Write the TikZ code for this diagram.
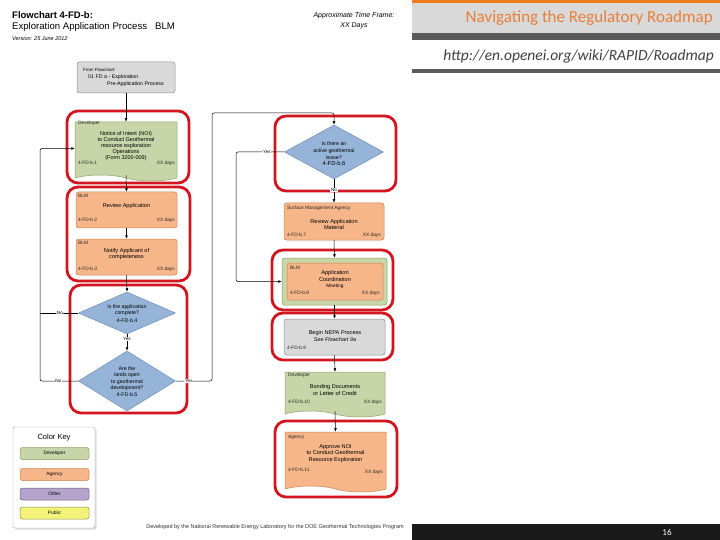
\documentclass[tikz,border=0pt]{standalone}
\usepackage{fontspec}
\setmainfont{Liberation Sans}
\newfontfamily\calibfont{Carlito}
\usetikzlibrary{shapes.geometric,shapes.symbols,arrows.meta}
\definecolor{devgreen}{HTML}{C8D5A8}
\definecolor{devline}{HTML}{8FA266}
\definecolor{agorange}{HTML}{F6B68A}
\definecolor{agline}{HTML}{C88552}
\definecolor{dblue}{HTML}{96B4D8}
\definecolor{dline}{HTML}{6C8DB6}
\definecolor{lgray}{HTML}{D9D9D9}
\definecolor{gline}{HTML}{8C8C8C}
\definecolor{framered}{HTML}{D2151E}
\definecolor{okey}{HTML}{B4A3CC}
\definecolor{ykey}{HTML}{F3F37C}
\definecolor{hdorange}{HTML}{F07E1E}
\definecolor{hdtext}{HTML}{E8803A}
\definecolor{hdgray}{HTML}{5A5A5A}
\definecolor{hdlight}{HTML}{D9D9D9}
\newcommand\fsz[2]{\fontsize{#1}{#2}\selectfont}
\tikzset{
  boxbase/.style={rectangle, rounded corners=2.5pt, line width=0.5pt, inner sep=0pt},
  devbox/.style={tape, tape bend top=none, tape bend bottom=out and in, tape bend height=6pt,
    fill=devgreen, draw=devline, line width=0.5pt, inner sep=0pt},
  agdoc/.style={tape, tape bend top=none, tape bend bottom=out and in, tape bend height=6pt,
    fill=agorange, draw=agline, line width=0.5pt, inner sep=0pt},
  agbox/.style={boxbase, fill=agorange, draw=agline},
  grbox/.style={boxbase, fill=devgreen, draw=devline},
  graybox/.style={boxbase, fill=lgray, draw=gline},
  decision/.style={diamond, fill=dblue, draw=dline, line width=0.5pt, inner sep=0pt},
  rframe/.style={draw=framered, line width=2.8pt, rounded corners=11pt},
  conn/.style={draw=black, line width=0.5pt, -{Latex[length=3.5pt,width=2.8pt]}},
  plainline/.style={draw=black, line width=0.5pt},
  corner/.style={font=\fsz{4.8}{5.5}, inner sep=0pt, text=black!85},
  maintxt/.style={font=\fsz{5.6}{6.2}, align=center, inner sep=0pt},
  dtxt/.style={font=\fsz{5.2}{6.6}, align=center, inner sep=0pt},
  ylab/.style={font=\fsz{4.6}{5}, fill=white, inner sep=0.6pt},
  keyentry/.style={boxbase, minimum width=69pt, minimum height=12pt, font=\fsz{4.8}{5.5}},
}
\begin{document}
\begin{tikzpicture}[x=1pt,y=-1pt]
\useasboundingbox (0,0) rectangle (720,540);
\fill[white] (0,0) rectangle (720,540);

% header
\fill[hdorange] (412,0) rectangle (720,3);
\fill[hdlight] (412,3) rectangle (720,33);
\fill[hdgray] (412,33) rectangle (720,40);
\fill[hdgray] (412,69) rectangle (720,73);
\node[anchor=east, inner sep=0pt, text=hdtext, font=\calibfont\fsz{17}{18}] (navt) at (713,18) {Navigating the Regulatory Roadmap};
\node[anchor=east, inner sep=0pt, text=black!75, font=\calibfont\itshape\fsz{15.5}{16}] (url) at (714,56) {http://en.openei.org/wiki/RAPID/Roadmap};

% title
\node[anchor=west, inner sep=0pt, font=\bfseries\fsz{9.5}{10}] (t1) at (12,15) {Flowchart 4-FD-b:};
\node[anchor=west, inner sep=0pt, font=\fsz{9.6}{10}] (t2) at (12,27) {Exploration Application Process \ \ BLM};
\node[anchor=west, inner sep=0pt, font=\itshape\fsz{5.5}{6}] (t3) at (12,38.5) {Version: 25 June 2012};
\node[inner sep=0pt, font=\itshape\fsz{7}{8}] (tf1) at (354,16) {Approximate Time Frame:};
\node[inner sep=0pt, font=\itshape\fsz{7}{8}] (tf2) at (354,26) {XX Days};

% frames
\draw[rframe] (67,111) rectangle (189,183);
\draw[rframe] (67,187) rectangle (190,281);
\draw[rframe] (70,285) rectangle (187,413);
\draw[rframe] (275,116) rectangle (396,191);
\draw[rframe] (272,250) rectangle (393,310);
\draw[rframe] (272,313) rectangle (393,360);
\draw[rframe] (275,421) rectangle (397,497);

% left column
\node[graybox, minimum width=98pt, minimum height=31pt] (from) at (126,77.5) {};
\node[anchor=west, inner sep=0pt, font=\fsz{4.5}{5}] (fromt1) at (83,70) {From Flowchart:};
\node[anchor=west, inner sep=0pt, font=\fsz{5.3}{6}] (fromt2) at (88,77) {01 FD a - Exploration};
\node[anchor=west, inner sep=0pt, font=\fsz{5.3}{6}] (fromt3) at (107,84) {Pre-Application Process};

\node[devbox, minimum width=102pt, minimum height=59pt] (dev1) at (126,148.5) {};
\node[corner, anchor=west] (dev1a) at (78,123) {Developer};
\node[maintxt, font=\fsz{5.5}{5.8}] (dev1t) at (126,146) {Notice of Intent (NOI)\\to Conduct Geothermal\\resource exploration\\Operations\\(Form 3200-009)};
\node[corner, anchor=west] (dev1b) at (78,163) {4-FD-b.1};
\node[corner, anchor=east] (dev1c) at (175,163) {XX days};

\node[agbox, minimum width=101pt, minimum height=36pt] (rev) at (126.5,210) {};
\node[corner, anchor=west] (reva) at (78,196) {BLM};
\node[maintxt] (revt) at (126.5,206) {Review Application};
\node[corner, anchor=west] (revb) at (78,220) {4-FD-b.2};
\node[corner, anchor=east] (revc) at (175,220) {XX days};

\node[agbox, minimum width=101pt, minimum height=36pt] (notify) at (126.5,257) {};
\node[corner, anchor=west] (notifya) at (78,243) {BLM};
\node[maintxt] (notifyt) at (126.5,254) {Notify Applicant of\\completeness};
\node[corner, anchor=west] (notifyb) at (78,269) {4-FD-b.3};
\node[corner, anchor=east] (notifyc) at (175,269) {XX days};

\node[decision, minimum width=97pt, minimum height=42pt] (d1) at (127,313) {};
\node[dtxt] (d1t) at (127,313.5) {Is the application\\complete?\\[1pt]4-FD-b.4};
\node[decision, minimum width=97pt, minimum height=60pt] (d2) at (127,381) {};
\node[dtxt] (d2t) at (127,381.5) {Are the\\lands open\\to geothermal\\development?\\4-FD-b.5};

% right column
\node[decision, minimum width=99pt, minimum height=54pt] (d3) at (334,152) {};
\node[dtxt] (d3t) at (334,154) {Is there an\\active geothermal\\lease?\\\fsz{5.8}{7}4-FD-b.6};

\node[agbox, minimum width=100pt, minimum height=37pt] (sma) at (334,221.5) {};
\node[corner, anchor=west] (smaa) at (287,208) {Surface Management Agency};
\node[maintxt] (smat) at (334,224.5) {Review Application\\Material};
\node[corner, anchor=west] (smab) at (287,235) {4-FD-b.7};
\node[corner, anchor=east] (smac) at (381,235) {XX days};

\node[grbox, minimum width=105pt, minimum height=47pt] (meeto) at (334.5,281.5) {};
\node[agbox, minimum width=96pt, minimum height=37pt] (meeti) at (335,281.5) {};
\node[corner, anchor=west] (meeta) at (290,268) {BLM};
\node[maintxt] (meett) at (335,279.5) {Application\\Coordination\\\fsz{4.8}{6}Meeting};
\node[corner, anchor=west] (meetb) at (290,293) {4-FD-b.8};
\node[corner, anchor=east] (meetc) at (380,293) {XX days};

\node[graybox, minimum width=101pt, minimum height=36pt] (nepa) at (334.5,337) {};
\node[maintxt] (nepat) at (335,333) {Begin NEPA Process};
\node[maintxt, font=\itshape\fsz{5.4}{6}] (nepat2) at (335,339.5) {See Flowchart 9a};
\node[corner, anchor=west] (nepab) at (287,347.5) {4-FD-b.9};

\node[devbox, minimum width=100pt, minimum height=45pt] (bond) at (335,391.5) {};
\node[corner, anchor=west] (bonda) at (288,375) {Developer};
\node[maintxt] (bondt) at (335,390) {Bonding Documents\\or Letter of Credit};
\node[corner, anchor=west] (bondb) at (288,402) {4-FD-b.10};
\node[corner, anchor=east] (bondc) at (382,402) {XX days};

\node[agdoc, minimum width=101pt, minimum height=60pt] (appr) at (335.5,459) {};
\node[corner, anchor=west] (appra) at (288,437) {Agency};
\node[maintxt] (apprt) at (335.5,453.5) {Approve NOI\\to Conduct Geothermal\\Resource Exploration};
\node[corner, anchor=west] (apprb) at (288,470) {4-FD-b.11};
\node[corner, anchor=east] (apprc) at (383,472) {XX days};

% helper coordinates
\coordinate (lx) at (40,0);
\coordinate (mx) at (212,113);
\coordinate (rx) at (236,0);

% connectors
\draw[conn] (from.south) -- (dev1.north);
\draw[conn] (dev1.south) -- (rev.north);
\draw[conn] (rev.south) -- (notify.north);
\draw[conn] (notify.south) -- (d1.north);
\draw[conn] (d1.south) -- node[ylab, pos=0.3] (yes1) {Yes} (d2.north);
\draw[plainline, rounded corners=2pt] (d1.west) -- node[ylab, pos=0.48] (no1) {No} (d1.west -| lx);
\draw[conn, rounded corners=2pt] (d2.west) -- node[ylab, pos=0.52] (no2) {No} (d2.west -| lx) -- (lx |- dev1.west) -- (dev1.west);
\draw[conn, rounded corners=2pt] (d2.east) -- node[ylab, pos=0.36] (yes2) {Yes} (d2.east -| mx) -- (mx) -- (mx -| d3.north) -- (d3.north);
\draw[conn, rounded corners=2pt] (d3.west) -- node[ylab, pos=0.36] (yes3) {Yes} (d3.west -| rx) -- (rx |- meeto.west) -- (meeto.west);
\draw[conn] (d3.south) -- node[ylab, pos=0.45] (no3) {No} (sma.north);
\draw[conn] (sma.south) -- (meeto.north);
\draw[conn] (meeto.south) -- (nepa.north);
\draw[conn] (nepa.south) -- (bond.north);
\draw[conn] (bond.south) -- (appr.north);

% color key
\fill[black!14, rounded corners=2pt] (14.5,428.5) rectangle (96.5,529.5);
\node[draw=black!35, fill=white, rounded corners=2pt, minimum width=82pt, minimum height=101pt, inner sep=0pt] (key) at (54,477.5) {};
\node[inner sep=0pt, font=\fsz{7.5}{8}] (keyt) at (54,437.5) {Color Key};
\node[keyentry, fill=devgreen, draw=devline] (kdev) at (54.5,453.5) {Developer};
\node[keyentry, fill=agorange, draw=agline] (kag) at (54.5,474.5) {Agency};
\node[keyentry, fill=okey, draw=okey!60!black] (koth) at (54.5,494) {Other};
\node[keyentry, fill=ykey, draw=ykey!60!black] (kpub) at (54.5,513) {Public};

% footer
\node[inner sep=0pt, font=\fsz{5.5}{6}, text=black!80] (foot) at (275,527.5) {Developed by the National Renewable Energy Laboratory for the DOE Geothermal Technologies Program};
\fill[black!90] (412,524) rectangle (720,540);
\node[inner sep=0pt, text=white, font=\calibfont\fsz{9}{10}] (pnum) at (667,532.5) {16};
\end{tikzpicture}
\end{document}
